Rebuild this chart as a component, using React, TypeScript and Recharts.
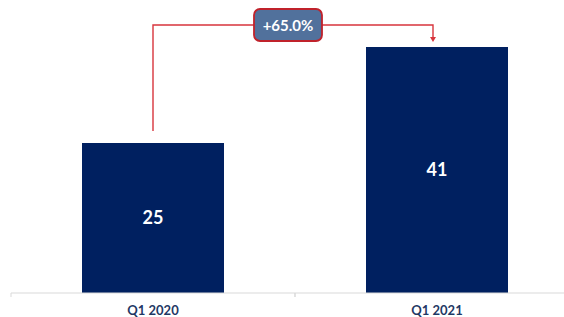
import React from 'react';
import { BarChart, Bar, XAxis, YAxis, LabelList } from 'recharts';

const categories = ['Q1 2020', 'Q1 2021'];
const values = [25, 41];
const changeLabel = '+65.0%';

const data = categories.map((name, i) => ({ name, value: values[i] }));

// the plot runs a bit past the right edge of the picture, so the chart is wider and clipped
const W = 580;
const VIEW_W = 564;
const H = 317;
const MARGIN = { top: 5, right: 1, bottom: 0, left: 11 };
const BAND = (W - MARGIN.left - MARGIN.right) / categories.length;
const FONT = 'Lato, "Open Sans", sans-serif';

const AxisTick = (props: any) => {
  const { x, y, payload } = props;
  return (
    <g>
      <line x1={x - BAND / 2} y1={y - 8} x2={x - BAND / 2} y2={y - 4} stroke="#d9d9d9" />
      <line x1={x + BAND / 2} y1={y - 8} x2={x + BAND / 2} y2={y - 4} stroke="#d9d9d9" />
      <text x={x} y={y + 14} textAnchor="middle" fill="#1f3864" fontSize={13} fontWeight={700} fontFamily={FONT}>
        {payload.value}
      </text>
    </g>
  );
};

// bracket + arrow drawn from the second bar's geometry
const Bracket = (props: any) => {
  const { x, y, width, height, index } = props;
  if (index !== 1) return null;
  const base = y + height;
  const cx1 = x + width / 2;
  const cx0 = cx1 - BAND;
  const y0 = base - (height * values[0]) / values[1];
  const lineY = y - 22;
  const lx = cx0;
  const rx = cx1 - 4;
  const red = '#d8353d';
  const bx = (lx + rx) / 2 - 5;
  return (
    <g>
      <path d={`M${lx},${y0 - 12} V${lineY} H${rx} V${y - 9}`} fill="none" stroke={red} strokeWidth={1.4} />
      <path d={`M${rx - 3},${y - 10} L${rx + 3},${y - 10} L${rx},${y - 5} Z`} fill={red} />
      <rect x={bx - 34} y={lineY - 16} width={68} height={32} rx={6} fill="#51719c" stroke="#c0222b" strokeWidth={1.8} />
      <text x={bx} y={lineY + 5.5} textAnchor="middle" fill="#fff" fontSize={15} fontWeight={700} fontFamily={FONT}>
        {changeLabel}
      </text>
    </g>
  );
};

export default function App() {
  return (
    <div style={{ position: 'absolute', left: 0, top: 0, width: VIEW_W, height: H, overflow: 'hidden', background: '#fff' }}>
      <BarChart width={W} height={H} data={data} margin={MARGIN} barCategoryGap="25%">
        <XAxis
          dataKey="name"
          axisLine={{ stroke: '#d9d9d9' }}
          tickLine={false}
          tick={<AxisTick />}
          height={24}
          interval={0}
        />
        <YAxis hide domain={[0, 48]} />
        <Bar dataKey="value" fill="#002060" isAnimationActive={false}>
          <LabelList dataKey="value" position="center" fill="#fff" fontSize={18} fontWeight={700} fontFamily={FONT} />
          <LabelList dataKey="value" content={<Bracket />} />
        </Bar>
      </BarChart>
    </div>
  );
}
